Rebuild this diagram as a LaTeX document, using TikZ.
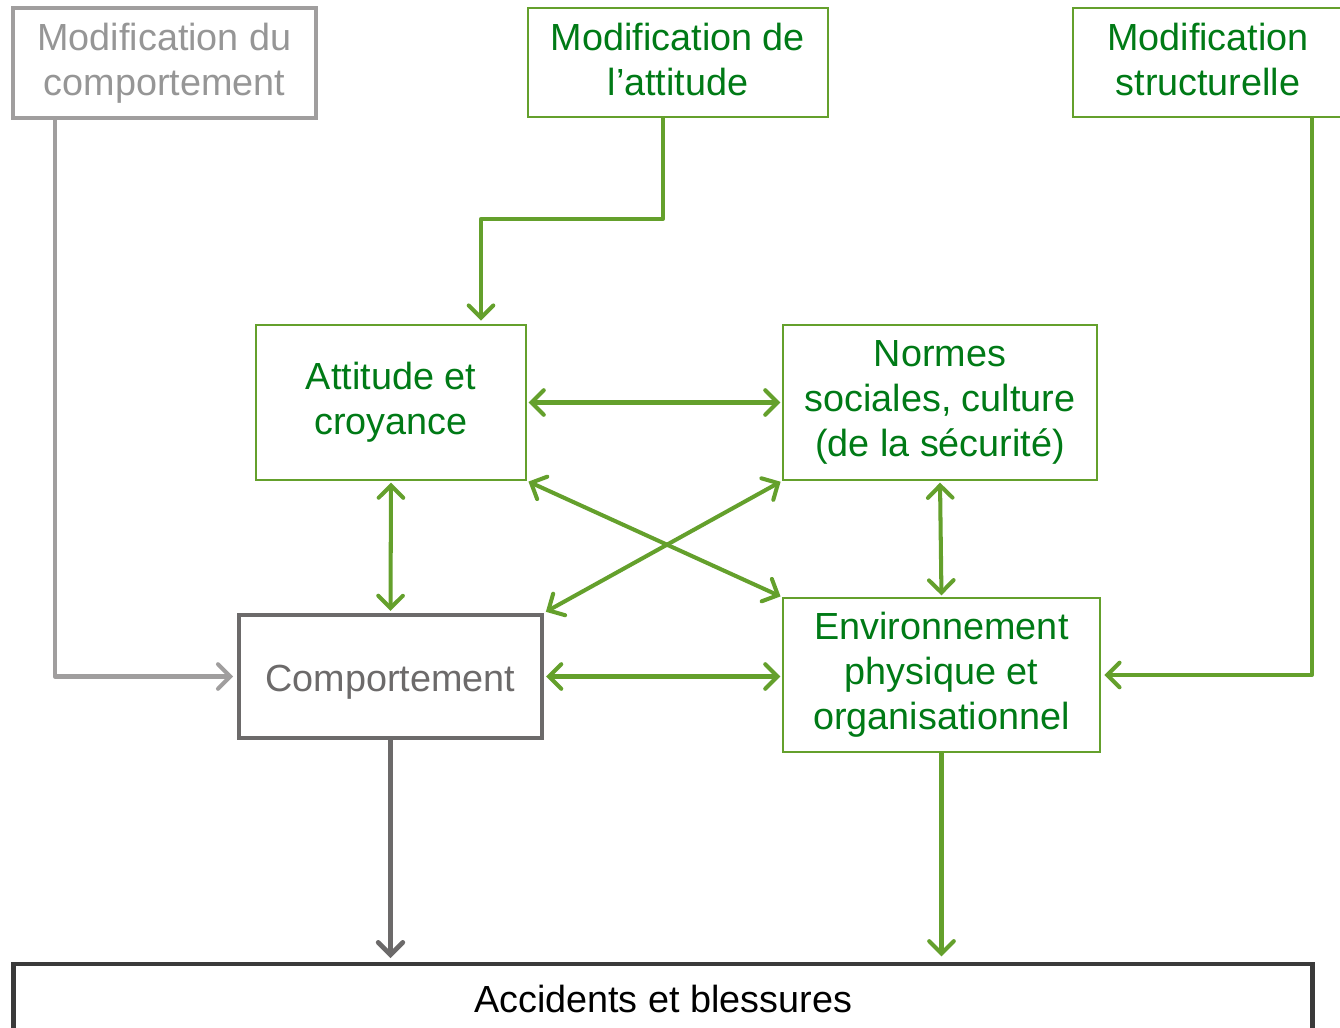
\documentclass[tikz,border=0pt]{standalone}
\usepackage{fontspec}
\setmainfont{Liberation Sans}
\usetikzlibrary{arrows.meta}
\tikzset{>={Straight Barb[length=7pt,width=14pt,line cap=round]}}
\newcommand*{\sth}{\rule{0pt}{21.5pt}}
\newcommand*{\std}{\rule[-4pt]{0pt}{4pt}}
\definecolor{cvt}{RGB}{0,122,22}
\definecolor{cvl}{RGB}{100,160,44}
\definecolor{cgc}{RGB}{160,158,158}
\definecolor{cgt}{RGB}{150,150,150}
\definecolor{cgf}{RGB}{108,106,106}
\definecolor{cnr}{RGB}{58,58,58}
\tikzset{
    bx/.style={align=center, inner sep=0pt, font=\fontsize{21.5}{25.6}\selectfont,
        execute at begin node=\sth, execute at end node=\std},
    bv/.style={bx, draw=cvl, line width=1pt, text=cvt},
    fv/.style={draw=cvl, line width=2.3pt, line join=round},
}

\begin{document}
\begin{tikzpicture}[x=.02cm, y=-.02cm]
    \useasboundingbox(0, 0) rectangle (1340, 1028);
    % boites du haut
    \node[bx, draw=cgc, line width=2.4pt, text=cgt, minimum width=6.06cm, minimum height=2.2cm](mcmp)at(164.5, 63){Modification du\\comportement};
    \node[bv, minimum width=6cm, minimum height=2.18cm](matt)at(678, 62.5){Modification de\\l'attitude};
    \node[bv, minimum width=5.4cm, minimum height=2.18cm](mstr)at(1208, 62.5){Modification\\structurelle};
    % facteurs
    \node[bv, minimum width=5.4cm, minimum height=3.1cm](att)at(391, 402.5){Attitude et\\croyance};
    \node[bv, minimum width=6.28cm, minimum height=3.1cm](nrm)at(940, 402.5){Normes\\sociales, culture\\(de la sécurité)};
    \node[bx, draw=cgf, line width=2.7pt, text=cgf, minimum width=6.06cm, minimum height=2.46cm](cmp)at(390.5, 676.5){Comportement};
    \node[bv, minimum width=6.34cm, minimum height=3.08cm](env)at(941.5, 675){Environnement\\physique et\\organisationnel};
    \node[bx, draw=cnr, line width=2.8pt, minimum width=26cm, minimum height=1.32cm](acc)at(663, 997){Accidents et blessures};
    % fleches
    \draw[->, draw=cgc, line width=2.3pt, line join=round, shorten >=2pt]([xshift=.88cm]mcmp.south west) |- (cmp.west);
    \draw[->, fv, shorten >=2pt]([xshift=-.3cm]matt.south) -- ++(0, 101) -| ([xshift=1.8cm]att.north);
    \draw[->, fv, shorten >=2pt]([xshift=2.08cm]mstr.south) |- (env.east);
    \draw[<->, fv, shorten <=1pt, shorten >=1pt](att.east) -- (nrm.west);
    \draw[<->, fv, shorten <=1pt, shorten >=1pt](att.south) -- (cmp.north);
    \draw[<->, fv, shorten <=1pt, shorten >=1pt](nrm.south) -- (env.north);
    \draw[<->, fv, shorten <=1pt, shorten >=1pt](att.south east) -- (env.north west);
    \draw[<->, fv, shorten <=1pt, shorten >=1pt](nrm.south west) -- (cmp.north east);
    \draw[<->, fv, shorten <=1pt, shorten >=1pt](cmp.east) -- (cmp.east -| env.west);
    \draw[->, draw=cgf, line width=2.7pt, shorten >=2pt](cmp.south) -- (cmp.south |- acc.north);
    \draw[->, fv, shorten >=3pt](env.south) -- (env.south |- acc.north);
\end{tikzpicture}
\end{document}
